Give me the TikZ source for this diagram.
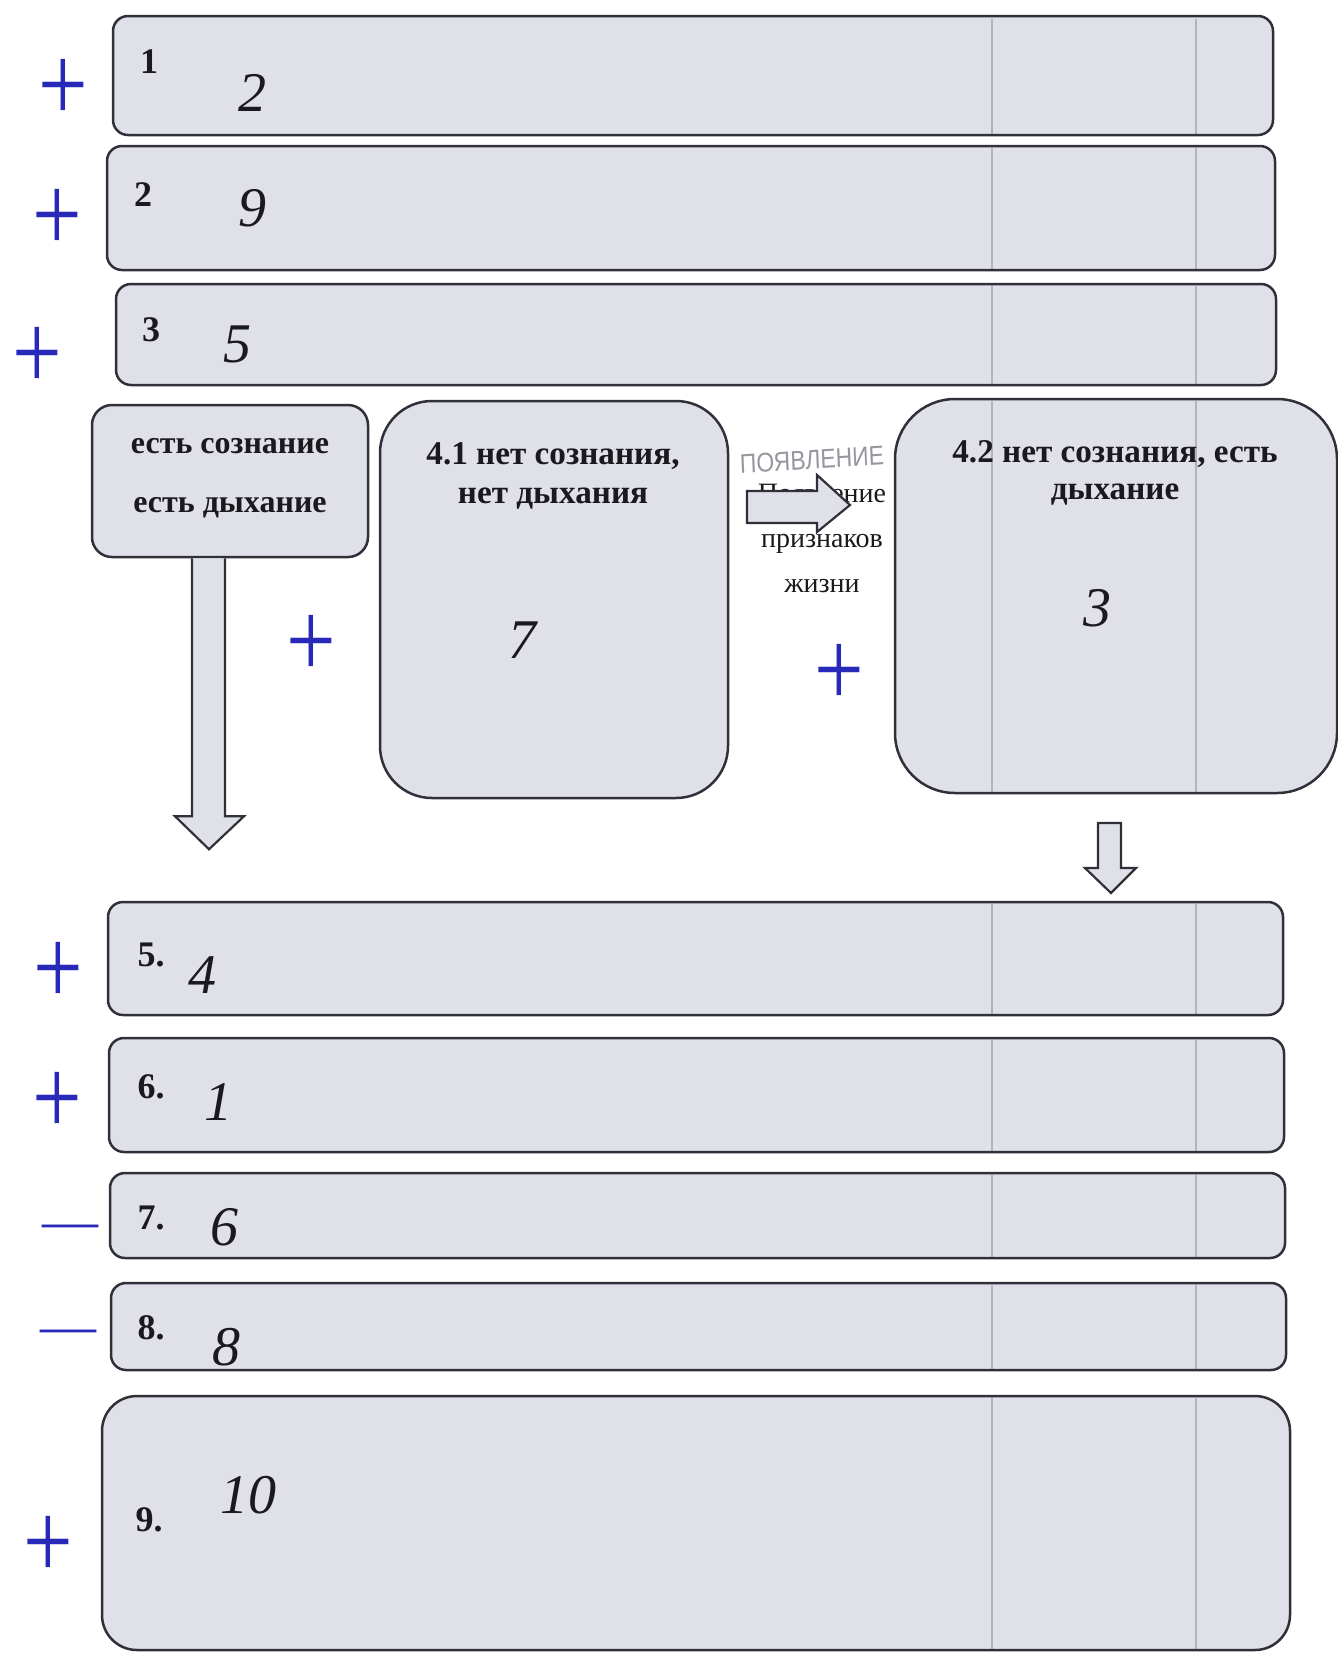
\documentclass[tikz,border=0pt]{standalone}
\usepackage{fontspec}
\setmainfont{Liberation Serif}
\setsansfont{Liberation Sans}
\usetikzlibrary{calc}
\definecolor{boxfill}{RGB}{224,224,233}
\definecolor{boxline}{RGB}{48,48,58}
\definecolor{pen}{RGB}{40,40,185}
\definecolor{ink}{RGB}{25,25,30}
\definecolor{pencil}{RGB}{150,150,158}
\begin{document}
\begin{tikzpicture}[x=0.5pt,y=-0.5pt,
  panel/.style={draw=boxline, fill=boxfill, line width=1.25pt, rounded corners=7.5pt, inner sep=0pt},
  blockarrow/.style={draw=boxline, fill=boxfill, line width=1.1pt, line join=miter},
  lbl/.style={font=\fontsize{18}{20}\selectfont\bfseries, text=ink, inner sep=0pt},
  head/.style={font=\fontsize{16.6}{18.5}\selectfont\bfseries, text=ink, align=center, inner sep=0pt},
  note/.style={font=\fontsize{14}{22.5}\selectfont, text=ink, align=center, inner sep=0pt},
  hand/.style={font=\fontsize{28}{30}\selectfont\itshape, text=ink, inner sep=0pt},
  plusmark/.style={font=\fontsize{44}{44}\selectfont\rmfamily, text=pen, inner sep=0pt, yscale=1.25},
  dashmark/.style={font=\fontsize{28}{28}\selectfont\rmfamily, text=pen, inner sep=0pt},
  scan/.style={draw=boxline, opacity=0.25, line width=1pt}
]
\useasboundingbox (0,0) rectangle (1338,1655);

% top bars
\node[panel, minimum width=580pt, minimum height=59.5pt] (b1) at (693,75.5) {};
\node[panel, minimum width=584pt, minimum height=62pt] (b2) at (691,208) {};
\node[panel, minimum width=580pt, minimum height=50.5pt] (b3) at (696,334.5) {};

% middle row
\node[panel, rounded corners=10pt, minimum width=138pt, minimum height=76pt] (yes) at (230,481) {};
\node[panel, rounded corners=26pt, minimum width=174pt, minimum height=198.5pt] (b41) at (554,599.5) {};
\node[panel, rounded corners=30pt, minimum width=221pt, minimum height=197pt] (b42) at (1116,596) {};

% lower bars
\node[panel, minimum width=587.5pt, minimum height=56.5pt] (b5) at (695.5,958.5) {};
\node[panel, minimum width=587.5pt, minimum height=57pt] (b6) at (696.5,1095) {};
\node[panel, minimum width=587.5pt, minimum height=42.5pt] (b7) at (697.5,1215.5) {};
\node[panel, minimum width=587.5pt, minimum height=43.5pt] (b8) at (698.5,1326.5) {};
\node[panel, rounded corners=17.5pt, minimum width=594pt, minimum height=127pt] (b9) at (696,1523) {};

% faint scanner streaks
\foreach \xx in {992,1196}{
  \draw[scan] (\xx,19) -- (\xx,134);
  \draw[scan] (\xx,148) -- (\xx,269);
  \draw[scan] (\xx,286) -- (\xx,384);
  \draw[scan] (\xx,401) -- (\xx,792);
  \draw[scan] (\xx,904) -- (\xx,1014);
  \draw[scan] (\xx,1040) -- (\xx,1151);
  \draw[scan] (\xx,1175) -- (\xx,1257);
  \draw[scan] (\xx,1285) -- (\xx,1369);
  \draw[scan] (\xx,1398) -- (\xx,1649);
}

% printed labels
\node[lbl] (l1) at (149,62) {1};
\node[lbl] (l2) at (143,195) {2};
\node[lbl] (l3) at (151,330) {3};
\node[lbl] (l5) at (151,955) {5.};
\node[lbl] (l6) at (151,1087) {6.};
\node[lbl] (l7) at (151,1218) {7.};
\node[lbl] (l8) at (151,1328) {8.};
\node[lbl] (l9) at (149,1520) {9.};

% box headings
\node[head, font=\fontsize{16}{29.5}\selectfont\bfseries] (tyes) at (230,478) {есть сознание\\есть дыхание};
\node[head, font=\fontsize{16.6}{19.5}\selectfont\bfseries] (t41) at (553,476) {4.1 нет сознания,\\нет дыхания};
\node[head, font=\fontsize{16.6}{18.8}\selectfont\bfseries] (t42) at (1115,473) {4.2 нет сознания, есть\\дыхание};

% transition text
\node[note] (tsign) at (822,538) {Появление\\признаков\\жизни};
\node[font=\fontsize{13.5}{14}\selectfont\sffamily, text=pencil, xscale=0.85, rotate=3, inner sep=0pt] (pencilnote) at (812,460) {ПОЯВЛЕНИЕ};

% right block arrow (4.1 -> 4.2)
\coordinate (ra) at (747,507);
\draw[blockarrow] (ra) ++(0,-16) -- (817,491) -- (817,475) -- (850,505) -- (817,532) -- (817,523) -- (747,523) -- cycle;

% big down arrow (yes -> 5)
\coordinate (da) at ($(yes.south)+(-21,0)$);
\draw[blockarrow] ($(da)+(-17,0)$) -- ($(da)+(-17,258)$) -- ($(da)+(-34,258)$) -- ($(da)+(0,291)$) -- ($(da)+(35,258)$) -- ($(da)+(16,258)$) -- ($(da)+(16,0)$);

% small down arrow (4.2 -> 5)
\coordinate (sa) at (1110,823);
\draw[blockarrow] ($(sa)+(-12,0)$) -- ($(sa)+(-12,45)$) -- ($(sa)+(-25,45)$) -- ($(sa)+(1,70)$) -- ($(sa)+(26,45)$) -- ($(sa)+(11,45)$) -- ($(sa)+(11,0)$) -- cycle;

% handwritten answers
\node[hand] (h1) at (252,93) {2};
\node[hand] (h2) at (252,208) {9};
\node[hand] (h3) at (237,344) {5};
\node[hand] (h41) at (522,640) {7};
\node[hand] (h42) at (1097,608) {3};
\node[hand] (h5) at (202,975) {4};
\node[hand] (h6) at (218,1102) {1};
\node[hand] (h7) at (224,1227) {6};
\node[hand] (h8) at (226,1347) {8};
\node[hand] (h9) at (248,1495) {10};

% blue grading marks
\node[plusmark] (p1) at (63,90) {+};
\node[plusmark] (p2) at (57,220) {+};
\node[plusmark] (p3) at (37,358) {+};
\node[plusmark] (p4) at (311,646) {+};
\node[plusmark] (p5) at (839,675) {+};
\node[plusmark] (p6) at (58,973) {+};
\node[plusmark] (p7) at (57,1103) {+};
\node[dashmark] (m8) at (70,1232) {—};
\node[dashmark] (m9) at (68,1337) {—};
\node[plusmark] (p10) at (48,1547) {+};
\end{tikzpicture}
\end{document}
